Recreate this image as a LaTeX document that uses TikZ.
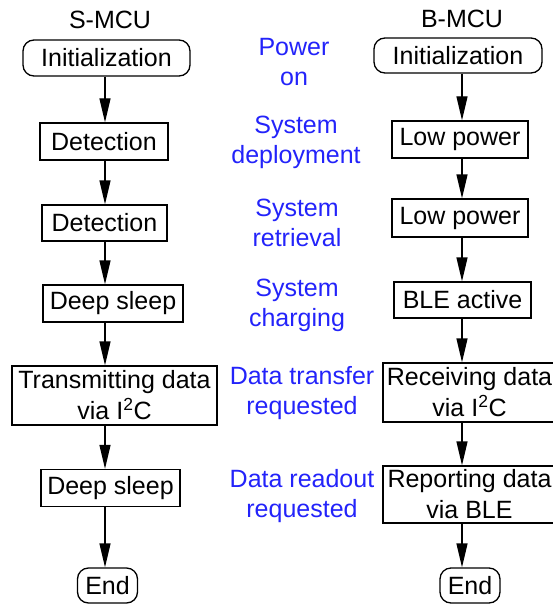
\documentclass[tikz,border=0pt]{standalone}
\usepackage{fontspec}
\setmainfont{Liberation Sans}
\usetikzlibrary{arrows.meta}
\definecolor{lblblue}{RGB}{35,35,250}
\begin{document}
\begin{tikzpicture}[x=1pt,y=-1pt,
  sz/.style 2 args={minimum width=#1pt, minimum height=#2pt},
  base/.style={font=\fontsize{25}{31}\selectfont, inner sep=0pt, align=center},
  box/.style={base, draw, line width=1.3pt},
  term/.style={box, rounded corners=11pt},
  lbl/.style={font=\fontsize{25}{30}\selectfont, text=lblblue, align=center, inner sep=0pt},
  head/.style={font=\fontsize{25}{30}\selectfont, inner sep=0pt},
  arr/.style={line width=1.3pt, -{Triangle[length=24pt,width=11pt]}},
]
\useasboundingbox (0,0) rectangle (553,604);

% column headings
\node[head] (hS) at (110,20) {S-MCU};
\node[head] (hB) at (462,19) {B-MCU};

% S-MCU flow
\node[term, sz={167}{36}] (lInit)   at (106.5,58)  {Initialization};
\node[box,  sz={128}{37}] (lDet1)   at (104,141.5) {Detection};
\node[box,  sz={125}{36}] (lDet2)   at (104.5,223) {Detection};
\node[box,  sz={140}{37}] (lSleep1) at (113,303.5) {Deep sleep};
\node[box,  sz={205}{59}] (lTx)     at (114.5,395.5) {Transmitting data\\via I\textsuperscript{2}C};
\node[box,  sz={139}{37}] (lSleep2) at (110.5,488) {Deep sleep};
\node[term, sz={60}{35}]  (lEnd)    at (107.5,585.5) {End};

% B-MCU flow
\node[term, sz={168}{35}] (rInit) at (458,55.5)  {Initialization};
\node[box,  sz={136}{37}] (rLow1) at (460,139.5) {Low power};
\node[box,  sz={136}{38}] (rLow2) at (460,218)   {Low power};
\node[box,  sz={137}{36}] (rBle)  at (462.5,300) {BLE active};
\node[box,  sz={173}{59}] (rRecv) at (469.5,392.5) {Receiving data\\via I\textsuperscript{2}C};
\node[box,  sz={173}{57}] (rRep)  at (469.5,494.5) {Reporting data\\via BLE};
\node[term, sz={60}{35}]  (rEnd)  at (470,585.5) {End};

% events between the two flows
\node[lbl] (e1) at (294,62)  {Power\\on};
\node[lbl] (e2) at (296,142) {System\\deployment};
\node[lbl] (e3) at (297,223) {System\\retrieval};
\node[lbl] (e4) at (297,305) {System\\charging};
\node[lbl] (e5) at (302,393) {Data transfer\\requested};
\node[lbl] (e6) at (302,496) {Data readout\\requested};

% connectors run down fixed columns
\coordinate (colL) at (105,0);
\coordinate (colR) at (462,0);
\foreach \a/\b in {lInit/lDet1, lDet1/lDet2, lDet2/lSleep1, lSleep1/lTx, lTx/lSleep2, lSleep2/lEnd}
  \draw[arr] (\a.south -| colL) -- (\b.north -| colL);
\foreach \a/\b in {rInit/rLow1, rLow1/rLow2, rLow2/rBle, rBle/rRecv, rRecv/rRep, rRep/rEnd}
  \draw[arr] (\a.south -| colR) -- (\b.north -| colR);
\end{tikzpicture}
\end{document}
